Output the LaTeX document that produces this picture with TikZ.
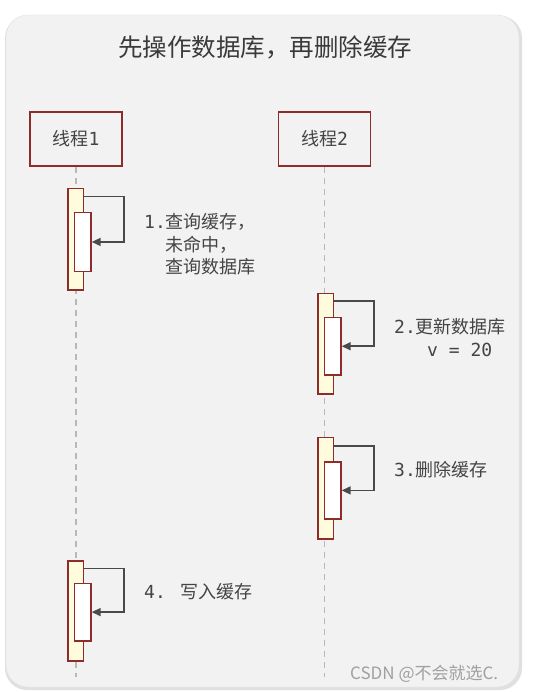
\documentclass[tikz,border=0pt]{standalone}
\usepackage{fontspec}
\setmainfont{Noto Sans CJK SC}
\newfontfamily\monof{DejaVu Sans Mono}
\usetikzlibrary{arrows.meta}
\definecolor{panel}{HTML}{F2F2F2}
\definecolor{panelb}{HTML}{E2E2E2}
\definecolor{bord}{HTML}{8E2B2B}
\definecolor{act}{HTML}{FFFBDD}
\definecolor{txt}{HTML}{444444}
\definecolor{arr}{HTML}{4A4A4A}
\definecolor{life}{HTML}{B8B8B8}
\definecolor{wm}{HTML}{A0A0A0}
\begin{document}
\begin{tikzpicture}[x=1pt,y=-1pt,
  actor/.style={draw=bord, line width=1.8pt, fill=panel, minimum width=92pt, minimum height=54pt, inner sep=0pt, font=\fontsize{18}{22}\selectfont, text=txt},
  outerbar/.style={draw=bord, line width=1.5pt, fill=act, minimum width=15.5pt, inner sep=0pt, anchor=north},
  innerbar/.style={draw=bord, line width=1.5pt, fill=white, minimum width=16.5pt, inner sep=0pt, anchor=north},
  msg/.style={draw=arr, line width=1.6pt, -{Triangle[length=9pt,width=8pt]}},
  lifeline/.style={draw=life, line width=1.2pt, dash pattern=on 6pt off 5pt},
  lbl/.style={anchor=base west, align=left, inner sep=0pt, text=txt, font=\fontsize{18}{22.5}\selectfont}
]
\useasboundingbox (0,0) rectangle (533,692);
\fill[white] (0,0) rectangle (533,692);
% panel with soft shadow
\fill[black!12, rounded corners=22pt] (5,16) rectangle (522,690);
\draw[panelb, fill=panel, rounded corners=22pt] (6,15) rectangle (519,687);
% title
\node[anchor=base, text=txt!85!black, font=\fontsize{24.5}{28}\selectfont, inner sep=0pt] (title) at (265,57) {先操作数据库，再删除缓存};
% actors
\node[actor] (t1) at (76,139) {线程{\monof 1}};
\node[actor] (t2) at (324.5,139) {线程{\monof 2}};
% lifelines
\coordinate (e1) at (76,677);
\coordinate (e2) at (324.5,677);
\draw[lifeline] (t1.south) -- (e1);
\draw[lifeline] (t2.south) -- (e2);
% step 1
\node[outerbar, minimum height=101pt] (o1) at (75.5,188) {};
\node[innerbar, minimum height=59pt] (i1) at (82.7,211.7) {};
\draw[msg] ([yshift=-8.7pt]o1.north east) -- ++(40,0) |- (i1.east);
\node[lbl] (l1) at (144,273.5) {{\monof 1.}查询缓存，\\\hspace{21.6pt}未命中，\\\hspace{21.6pt}查询数据库};
% step 2
\node[outerbar, minimum height=100.6pt] (o2) at (325.5,292.7) {};
\node[innerbar, minimum height=57.6pt] (i2) at (332.7,316.7) {};
\draw[msg] ([yshift=-8.3pt]o2.north east) -- ++(40,0) |- (i2.east);
\node[lbl] (l2) at (394,356.8) {{\monof 2.}更新数据库\\[0.8pt]\hspace{33pt}{\monof v = 20}};
% step 3
\node[outerbar, minimum height=101.3pt] (o3) at (325.5,436.7) {};
\node[innerbar, minimum height=57.3pt] (i3) at (332.7,461) {};
\draw[msg] ([yshift=-9pt]o3.north east) -- ++(40,0) |- (i3.east);
\node[lbl] (l3) at (394,476.8) {{\monof 3.}删除缓存};
% step 4
\node[outerbar, minimum height=100pt] (o4) at (75.5,560) {};
\node[innerbar, minimum height=57.3pt] (i4) at (82.7,582.7) {};
\draw[msg] ([yshift=-8.3pt]o4.north east) -- ++(40,0) |- (i4.east);
\node[lbl] (l4) at (144,598.5) {{\monof 4. }写入缓存};
% watermark
\node[anchor=base west, inner sep=0pt, text=wm, font=\fontsize{17}{20}\selectfont] (wmk) at (350,679) {CSDN @不会就选C.};
\end{tikzpicture}
\end{document}
